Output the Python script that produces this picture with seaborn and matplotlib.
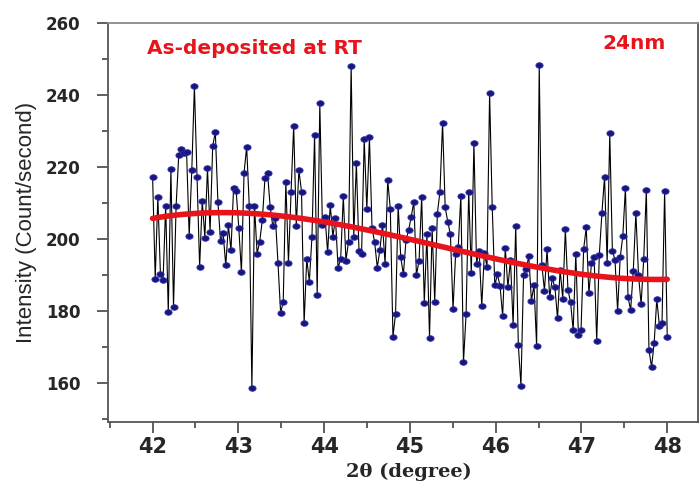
import matplotlib
matplotlib.use("Agg")
import matplotlib.pyplot as plt
import numpy as np
import pandas as pd
import seaborn as sns
from matplotlib.markers import MarkerStyle
from matplotlib.ticker import MultipleLocator
from matplotlib.transforms import Affine2D

# scan intensities, 42 -> 48 degrees, evenly stepped
intensity = [
    217.2, 188.9, 211.7, 190.1, 188.5, 209.2, 179.6, 219.4, 181.1, 209.2,
    223.2, 224.9, 223.9, 224.2, 200.8, 219.1, 242.4, 217.2, 192.2, 210.6,
    200.3, 219.6, 201.9, 225.7, 229.7, 210.2, 199.4, 201.5, 192.6, 203.7,
    196.8, 214.2, 213.2, 202.9, 190.7,
    218.2, 225.6, 209.2, 158.6, 209.2, 195.9, 199.2, 205.2, 216.8, 218.2,
    208.9, 203.5, 205.9, 193.2, 179.4, 182.5, 215.8, 193.4, 212.9, 231.4,
    203.5, 219.1, 213.1, 176.5, 194.5, 188.1, 200.6, 228.8, 184.3, 237.6,
    203.8, 206.1, 196.2, 209.4, 200.6,
    205.7, 191.9, 194.5, 211.9, 193.9, 199.2, 248.1, 200.6, 221.1, 196.6,
    195.9, 227.7, 208.2, 228.2, 202.9, 199.0, 192.0, 196.9, 203.8, 193.0,
    216.3, 208.2, 172.8, 179.1, 209.2, 194.8, 190.1, 199.6, 202.4, 206.1,
    210.3, 189.9, 193.9, 211.7,
    182.2, 201.2, 172.5, 202.9, 182.5, 207.0, 213.1, 232.2, 208.7, 204.7,
    201.2, 180.4, 195.9, 197.8, 212.0, 165.7, 179.0, 213.1, 190.4, 226.7,
    193.0, 196.7, 181.3, 196.1, 192.2, 240.4, 208.9, 187.1, 190.1, 186.9,
    178.5, 197.5, 186.5,
    194.1, 176.0, 203.6, 170.5, 159.2, 190.0, 191.5, 195.2, 182.8, 187.1,
    170.2, 248.2, 192.7, 185.6, 197.1, 183.7, 189.0, 186.5, 177.9, 191.3,
    183.4, 202.6, 185.8, 182.3, 174.6, 195.9, 173.3, 174.6, 197.1, 203.2,
    184.8, 193.2, 195.0, 171.6, 195.5,
    207.2, 217.2, 193.2, 229.3, 196.7, 194.1, 180.0, 194.8, 200.8, 214.2,
    183.7, 180.2, 191.1, 207.2, 190.0, 181.8, 194.4, 213.5, 169.1, 164.4,
    171.1, 183.3, 175.8, 176.5, 213.3, 172.8,
]
two_theta = np.linspace(42, 48, len(intensity))

# red trend curve
fit_two_theta = [42.0, 42.5, 43.0, 43.5, 44.0, 44.5, 45.0, 45.5, 46.0, 46.5, 47.0, 47.5, 48.0]
fit_intensity = [205.7, 206.8, 207.2, 206.6, 205.0, 202.3, 199.6, 196.8, 194.4, 192.2, 190.3, 189.2, 188.5]

x_ticks = [42, 43, 44, 45, 46, 47, 48]
y_ticks = [160, 180, 200, 220, 240, 260]

sns.set_style("ticks")
plt.rcParams["font.family"] = ["DejaVu Sans"]

df = pd.DataFrame({"two_theta": two_theta, "intensity": intensity})

fig = plt.figure(figsize=(7, 4.88), dpi=100)
ax = fig.add_axes([0.1543, 0.1359, 0.843, 0.8176])

oval = MarkerStyle("o", transform=Affine2D().scale(1.3, 1.0))
sns.lineplot(
    data=df,
    x="two_theta",
    y="intensity",
    color="black",
    linewidth=0.8,
    marker=oval,
    markersize=4.0,
    markerfacecolor="#17167e",
    markeredgecolor="#2d2ca6",
    markeredgewidth=0.6,
    ax=ax,
    zorder=2,
)
sns.regplot(
    x=fit_two_theta,
    y=fit_intensity,
    order=3,
    scatter=False,
    ci=None,
    color="#e8131b",
    line_kws={"linewidth": 4.0, "zorder": 4},
    ax=ax,
)

ax.set_xlim(41.48, 48.36)
ax.set_ylim(149.2, 260)
ax.set_xticks(x_ticks)
ax.set_yticks(y_ticks)
ax.xaxis.set_minor_locator(MultipleLocator(0.5))
ax.yaxis.set_minor_locator(MultipleLocator(10))

ax.tick_params(which="both", direction="out", color="#444444", width=1.2)
ax.tick_params(which="major", length=8)
ax.tick_params(which="minor", length=4)
ax.tick_params(axis="x", labelsize=15, pad=3)
ax.tick_params(axis="y", labelsize=12, pad=12)
for lab in ax.get_xticklabels() + ax.get_yticklabels():
    lab.set_fontweight("bold")

for side in ["left", "bottom", "right"]:
    ax.spines[side].set_color("#555555")
    ax.spines[side].set_linewidth(1.3)
ax.spines["top"].set_color("#8a8a8a")
ax.spines["top"].set_linewidth(1.3)

ax.set_xlabel("2θ (degree)", fontsize=14, fontweight="bold", family=["DejaVu Serif"])
ax.set_ylabel("Intensity (Count/second)", fontsize=16, family=["Liberation Sans"])
ax.xaxis.set_label_coords(0.51, -0.103)
ax.yaxis.set_label_coords(-0.12, 0.5)

ax.text(41.936, 251.2, "As-deposited at RT", color="#e8131b", fontsize=14.5,
        fontweight="bold", ha="left", va="baseline")
ax.text(47.245, 252.6, "24nm", color="#e8131b", fontsize=14.5,
        fontweight="bold", ha="left", va="baseline")

plt.savefig("out.png", dpi=100)
plt.close()
